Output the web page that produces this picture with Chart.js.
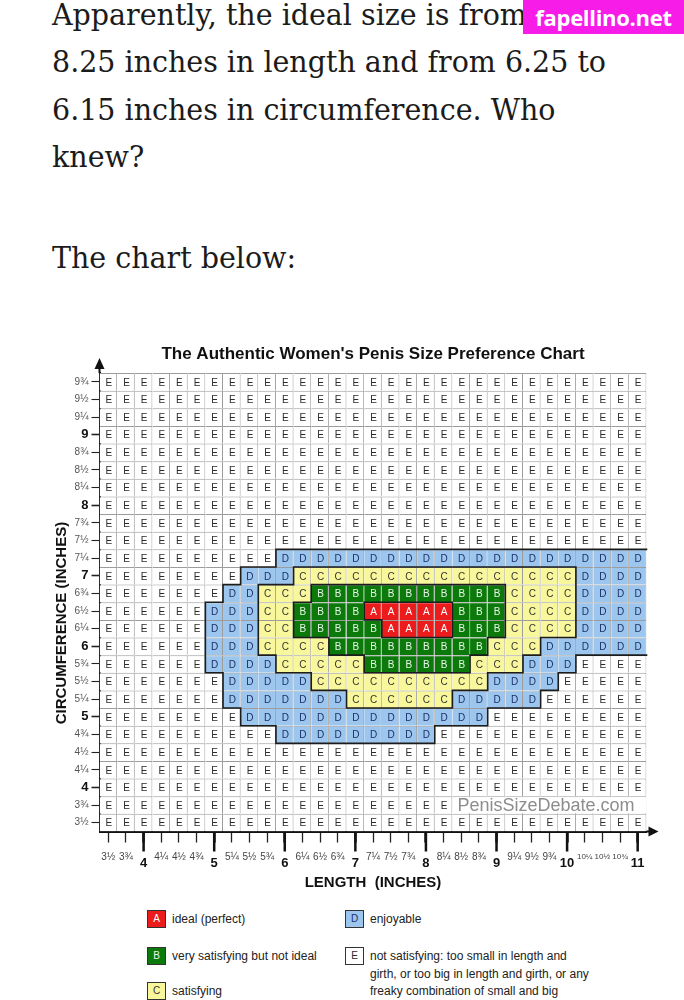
<!DOCTYPE html>
<html><head><meta charset="utf-8">
<script src="https://cdn.jsdelivr.net/npm/chart.js@4.4.0/dist/chart.umd.min.js"></script>
<style>
html,body{margin:0;padding:0;background:#fff;width:684px;height:1000px;overflow:hidden;position:relative;}
.t{position:absolute;left:52px;font-family:"DejaVu Serif",serif;font-size:30px;line-height:40px;height:40px;color:#1b1b1b;white-space:nowrap;transform-origin:0 50%;}
#wm{position:absolute;left:523px;top:0;width:161px;height:34px;background:#f81ce8;color:#fff;font-family:"Open Sans",sans-serif;font-weight:700;font-size:22px;line-height:34px;text-align:center;letter-spacing:-0.3px;}
#chartBox{position:absolute;left:0;top:337px;width:684px;height:570px;}
.lg{position:absolute;font-family:"Liberation Sans",Arial,sans-serif;font-size:12px;color:#222;white-space:nowrap;}
.lgbox{position:absolute;width:17px;height:16px;border:1px solid #333;font-family:"Liberation Sans",Arial,sans-serif;font-size:10px;line-height:16px;text-align:center;}
</style></head><body>
<div class="t" id="l1">Apparently, the ideal size is from</div>
<div class="t" id="l2">8.25 inches in length and from 6.25 to</div>
<div class="t" id="l3">6.15 inches in circumference. Who</div>
<div class="t" id="l4">knew?</div>
<div class="t" id="l5">The chart below:</div>
<div id="wm">fapellino.net</div>
<div id="chartBox"><canvas id="c" width="684" height="570"></canvas></div>
<div id="legend"></div>
<script>
// ---- data ----
const lengthValues = [3.5,3.75,4,4.25,4.5,4.75,5,5.25,5.5,5.75,6,6.25,6.5,6.75,7,7.25,7.5,7.75,8,8.25,8.5,8.75,9,9.25,9.5,9.75,10,10.25,10.5,10.75,11];
const lengthLabels = ['3½','3¾','4','4¼','4½','4¾','5','5¼','5½','5¾','6','6¼','6½','6¾','7','7¼','7½','7¾','8','8¼','8½','8¾','9','9¼','9½','9¾','10','10¼','10½','10¾','11'];
const girthValues = [9.75,9.5,9.25,9,8.75,8.5,8.25,8,7.75,7.5,7.25,7,6.75,6.5,6.25,6,5.75,5.5,5.25,5,4.75,4.5,4.25,4,3.75,3.5];
const girthLabels = ['9¾','9½','9¼','9','8¾','8½','8¼','8','7¾','7½','7¼','7','6¾','6½','6¼','6','5¾','5½','5¼','5','4¾','4½','4¼','4','3¾','3½'];
// one string per circumference row (top = 9¾), one letter per length column (3½ … 11)
const gradeRows = [
  'EEEEEEEEEEEEEEEEEEEEEEEEEEEEEEE',
  'EEEEEEEEEEEEEEEEEEEEEEEEEEEEEEE',
  'EEEEEEEEEEEEEEEEEEEEEEEEEEEEEEE',
  'EEEEEEEEEEEEEEEEEEEEEEEEEEEEEEE',
  'EEEEEEEEEEEEEEEEEEEEEEEEEEEEEEE',
  'EEEEEEEEEEEEEEEEEEEEEEEEEEEEEEE',
  'EEEEEEEEEEEEEEEEEEEEEEEEEEEEEEE',
  'EEEEEEEEEEEEEEEEEEEEEEEEEEEEEEE',
  'EEEEEEEEEEEEEEEEEEEEEEEEEEEEEEE',
  'EEEEEEEEEEEEEEEEEEEEEEEEEEEEEEE',
  'EEEEEEEEEEDDDDDDDDDDDDDDDDDDDDD',
  'EEEEEEEEDDDCCCCCCCCCCCCCCCCDDDD',
  'EEEEEEEDDCCCBBBBBBBBBBBCCCCDDDD',
  'EEEEEEDDDCCBBBBAAAAABBBCCCCDDDD',
  'EEEEEEDDDCCBBBBBAAAABBBCCCCDDDD',
  'EEEEEEDDDCCCCBBBBBBBBBCCCDDDDDD',
  'EEEEEEDDDDCCCCCBBBBBBCCCDDDEEEE',
  'EEEEEEEDDDDDCCCCCCCCCCDDDDEEEEE',
  'EEEEEEEDDDDDDDCCCCCCDDDDDEEEEEE',
  'EEEEEEEEDDDDDDDDDDDDDDEEEEEEEEE',
  'EEEEEEEEEEDDDDDDDDDEEEEEEEEEEEE',
  'EEEEEEEEEEEEEEEEEEEEEEEEEEEEEEE',
  'EEEEEEEEEEEEEEEEEEEEEEEEEEEEEEE',
  'EEEEEEEEEEEEEEEEEEEEEEEEEEEEEEE',
  'EEEEEEEEEEEEEEEEEEEEEEEEEEEEEEE',
  'EEEEEEEEEEEEEEEEEEEEEEEEEEEEEEE'
];
const gradeKeys = ['A','B','C','D','E'];
const gradeNames = [
  'ideal (perfect)',
  'very satisfying but not ideal',
  'satisfying',
  'enjoyable',
  'not satisfying: too small in length and\ngirth, or too big in length and girth, or any\nfreaky combination of small and big'
];

// ---- styles ----
const gradeFill = {A:'#ec1c1c', B:'#0b7a0b', C:'#f9f79c', D:'#9dc6ee', E:'#ffffff'};
const gradeInk  = {A:'#ffffff', B:'#e8f5e8', C:'#333333', D:'#1b2f66', E:'#2a2a2a'};
const SANS = '"Liberation Sans", Arial, sans-serif';

// body text: fit the serif lines to the reference width
(function(){
  const cx = document.createElement('canvas').getContext('2d');
  cx.font = '30px "DejaVu Serif"';
  const k = 554 / cx.measureText('8.25 inches in length and from 6.25 to').width;
  const centers = {l1:15, l2:62, l3:110, l4:157, l5:258};
  for (const id in centers) {
    const el = document.getElementById(id);
    el.style.top = (centers[id] - 20) + 'px';
    el.style.transform = 'scaleX(' + k.toFixed(4) + ')';
  }
})();

// ---- datasets (one per grade) ----
const datasets = gradeKeys.map(k => {
  const data = [];
  gradeRows.forEach((row, r) => {
    for (let c = 0; c < row.length; c++) {
      if (row[c] === k) data.push({x: lengthLabels[c], y: [girthValues[r] - 0.125, girthValues[r] + 0.125]});
    }
  });
  return {
    label: k, data,
    backgroundColor: gradeFill[k],
    borderColor: '#9c9c9c',
    borderWidth: {top: 1, right: 1, left: 0, bottom: 0},
    borderSkipped: false,
    inflateAmount: 0,
    grouped: false,
    barPercentage: 1,
    categoryPercentage: 1
  };
});

const isWhole = v => Math.abs(v - Math.round(v)) < 1e-9;

const gridPlugin = {
  id: 'gridDecor',
  afterDatasetsDraw(chart) {
    const ctx = chart.ctx, xs = chart.scales.x, ys = chart.scales.y;
    const hw = (xs.getPixelForValue(1) - xs.getPixelForValue(0)) / 2;
    // region outlines between different grades
    ctx.save();
    ctx.strokeStyle = '#1c1c1c'; ctx.lineWidth = 1.6; ctx.lineCap = 'square';
    ctx.beginPath();
    for (let r = 0; r < gradeRows.length; r++) {
      for (let c = 0; c < gradeRows[r].length; c++) {
        const g = gradeRows[r][c];
        const px = xs.getPixelForValue(c);
        const x0 = px - hw, x1 = px + hw;
        const y0 = ys.getPixelForValue(girthValues[r] + 0.125), y1 = ys.getPixelForValue(girthValues[r] - 0.125);
        if (c + 1 < gradeRows[r].length && gradeRows[r][c + 1] !== g) { ctx.moveTo(x1, y0); ctx.lineTo(x1, y1); }
        if (r + 1 < gradeRows.length && gradeRows[r + 1][c] !== g) { ctx.moveTo(x0, y1); ctx.lineTo(x1, y1); }
      }
    }
    ctx.stroke();
    // cell letters
    ctx.font = '10px ' + SANS; ctx.textAlign = 'center'; ctx.textBaseline = 'middle';
    chart.data.datasets.forEach((ds, i) => {
      ctx.fillStyle = gradeInk[ds.label];
      chart.getDatasetMeta(i).data.forEach(bar => {
        const p = bar.getProps(['x', 'y', 'base'], true);
        ctx.fillText(ds.label, p.x + 0.5, (p.y + p.base) / 2 + 1);
      });
    });
    // site watermark over the lower rows
    const wx = xs.getPixelForValue(20) - hw + 1;
    const wy0 = ys.getPixelForValue(3.875) + 1, wy1 = ys.getPixelForValue(3.625) - 1;
    ctx.fillStyle = '#ffffff';
    ctx.fillRect(wx, wy0, chart.chartArea.right - wx, wy1 - wy0);
    ctx.fillStyle = '#8d8d8d'; ctx.font = '18px ' + SANS; ctx.textAlign = 'left';
    ctx.fillText('PenisSizeDebate.com', wx + 4, (wy0 + wy1) / 2 + 1);
    ctx.restore();
  },
  afterDraw(chart) {
    const ctx = chart.ctx, xs = chart.scales.x;
    const {left, top, right, bottom} = chart.chartArea;
    ctx.save();
    ctx.strokeStyle = '#111'; ctx.fillStyle = '#111'; ctx.lineWidth = 2;
    ctx.beginPath();
    ctx.moveTo(left, top); ctx.lineTo(left, top - 6);
    ctx.moveTo(right, bottom); ctx.lineTo(right + 4, bottom);
    ctx.stroke();
    ctx.beginPath();
    ctx.moveTo(left, top - 15); ctx.lineTo(left - 5, top - 4); ctx.lineTo(left + 5, top - 4); ctx.closePath(); ctx.fill();
    ctx.beginPath();
    ctx.moveTo(right + 12, bottom); ctx.lineTo(right + 2, bottom - 5); ctx.lineTo(right + 2, bottom + 5); ctx.closePath(); ctx.fill();
    // longer ticks for whole inches
    ctx.lineWidth = 2.5; ctx.beginPath();
    lengthValues.forEach((v, i) => {
      if (isWhole(v)) { const px = xs.getPixelForTick(i); ctx.moveTo(px, bottom + 1); ctx.lineTo(px, bottom + 20); }
    });
    ctx.stroke();
    ctx.restore();
  }
};

new Chart(document.getElementById('c'), {
  type: 'bar',
  data: {labels: lengthLabels, datasets},
  options: {
    responsive: false, animation: false, devicePixelRatio: 1,
    layout: {padding: {left: 45, right: 37.5, top: 0, bottom: 0}},
    plugins: {
      legend: {display: false}, tooltip: {enabled: false},
      title: {display: true, text: "The Authentic Women's Penis Size Preference Chart", fullSize: false,
        color: '#111', font: {family: SANS, size: 17, weight: 'bold'}, padding: {top: 7, bottom: 8.6}}
    },
    scales: {
      x: {
        type: 'category', offset: true,
        grid: {display: true, drawOnChartArea: false, offset: false, tickLength: 11,
          tickColor: '#222', tickWidth: ctx => isWhole(lengthValues[ctx.index]) ? 2.5 : 1.3},
        border: {display: true, color: '#111', width: 2},
        ticks: {autoSkip: false, maxRotation: 0, minRotation: 0, padding: 9,
          color: ctx => isWhole(lengthValues[ctx.index]) ? '#111' : '#444',
          font: ctx => {
            const v = lengthValues[ctx.index];
            if (isWhole(v)) return {family: SANS, size: 13, weight: 'bold', lineHeight: 1.8};
            return {family: SANS, size: v > 10 ? 8 : 10, lineHeight: 1.2};
          }},
        title: {display: true, text: 'LENGTH  (INCHES)', color: '#111',
          font: {family: SANS, size: 15, weight: 'bold'}, padding: {top: 0, bottom: 15}},
        afterFit: s => { s.height = 75.5; }
      },
      y: {
        type: 'linear', min: 3.375, max: 9.875,
        afterBuildTicks: s => { s.ticks = girthValues.map(v => ({value: v})); },
        grid: {display: true, drawOnChartArea: false, tickLength: 8, tickColor: '#222',
          tickWidth: ctx => (ctx.tick && isWhole(ctx.tick.value)) ? 1.6 : 1.1},
        border: {display: true, color: '#111', width: 2},
        ticks: {padding: 3, autoSkip: false,
          callback: v => { const i = girthValues.indexOf(v); return i >= 0 ? girthLabels[i] : ''; },
          color: ctx => (ctx.tick && isWhole(ctx.tick.value)) ? '#111' : '#555',
          font: ctx => (ctx.tick && isWhole(ctx.tick.value)) ? {family: SANS, size: 13, weight: 'bold'} : {family: SANS, size: 10}},
        title: {display: true, text: 'CIRCUMFERENCE (INCHES)' + '\u00A0'.repeat(10), color: '#111',
          font: {family: SANS, size: 15, weight: 'bold'}, padding: {top: 8, bottom: 0}},
        afterFit: s => { s.width = 54.5; }
      }
    }
  },
  plugins: [gridPlugin]
});

// ---- HTML legend built from the grade arrays ----
(function(){
  const slots = [[147, 910], [147, 947], [147, 982], [345, 910], [345, 947]];
  const lg = document.getElementById('legend');
  gradeKeys.forEach((k, i) => {
    const [x, y] = slots[i];
    const b = document.createElement('div');
    b.className = 'lgbox';
    b.style.left = x + 'px'; b.style.top = y + 'px';
    b.style.background = gradeFill[k]; b.style.color = gradeInk[k];
    b.textContent = k;
    lg.appendChild(b);
    const t = document.createElement('div');
    t.className = 'lg';
    t.style.left = (x + 25) + 'px'; t.style.top = (y + 1) + 'px';
    t.style.lineHeight = '17.5px';
    t.innerHTML = gradeNames[i].split('\n').join('<br>');
    lg.appendChild(t);
  });
})();
</script>
</body></html>
